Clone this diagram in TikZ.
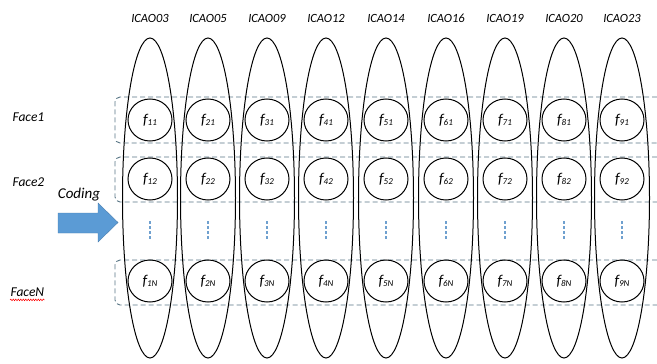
\documentclass[tikz,border=0pt]{standalone}
\usepackage{fontspec}
\setmainfont{Carlito}
\usetikzlibrary{shapes.geometric,decorations.pathmorphing}
\definecolor{dashcol}{HTML}{587585}
\definecolor{dotcol}{HTML}{6FA0CF}
\definecolor{arrowcol}{HTML}{5B9BD5}
\definecolor{arrowedge}{HTML}{4A7FB0}
\tikzset{
  colell/.style={ellipse, draw=black, line width=1pt, minimum width=55pt, minimum height=320pt, inner sep=0pt},
  fcirc/.style={ellipse, draw=black, line width=1pt, minimum width=44pt, minimum height=42pt, inner sep=0pt},
  rowbox/.style={draw=dashcol, line width=0.9pt, dash pattern=on 5pt off 3pt, rounded corners=5pt},
  hdr/.style={font=\fontsize{12.5}{14}\selectfont\itshape},
  facelbl/.style={font=\fontsize{13.5}{15}\selectfont\itshape, anchor=west},
  dotsline/.style={draw=dotcol, line width=2.6pt, dash pattern=on 2.6pt off 2.4pt}
}
\newcommand{\fl}[1]{{\fontsize{15}{16}\selectfont\itshape f}\raisebox{-0.35ex}{\fontsize{9}{10}\selectfont\itshape #1}}
\begin{document}
\begin{tikzpicture}[x=1pt,y=-1pt]
\useasboundingbox (0,0) rectangle (657,364);
% dashed row boxes
\draw[rowbox] (657,97) -- (115,97) -- (115,143) -- (657,143);
\draw[rowbox] (657,157) -- (115,157) -- (115,202) -- (657,202);
\draw[rowbox] (657,260) -- (115,260) -- (115,305) -- (657,305);
% columns
\foreach \i/\x/\name in {1/150/03,2/208/05,3/267/09,4/326/12,5/386/14,6/446/16,7/505/19,8/564/20,9/622/23}{
  \node[colell] (col\i) at (\x,198) {};
  \node[hdr] (h\i) at (\x,18) {ICAO\name};
  \node[fcirc] (c\i1) at (\x,120) {\fl{\i1}};
  \node[fcirc] (c\i2) at (\x,179) {\fl{\i2}};
  \node[fcirc] (c\i N) at (\x,281) {\fl{\i N}};
  \coordinate (dt\i) at (\x,221);
  \coordinate (db\i) at (\x,240);
  \draw[dotsline] (dt\i) -- (db\i);
}
% row labels
\node[facelbl] (face1) at (9,117) {Face1};
\node[facelbl] (face2) at (9,182) {Face2};
\node[facelbl] (faceN) at (7,292) {FaceN};
\draw[red, line width=0.5pt, decorate, decoration={snake, amplitude=0.8pt, segment length=2.5pt}] ([xshift=3pt,yshift=0pt]faceN.south west) -- ([xshift=-3pt,yshift=0pt]faceN.south east);
\node[font=\fontsize{15}{17}\selectfont\itshape] (coding) at (79,195) {Coding};
% arrow
\draw[fill=arrowcol, draw=arrowedge, line width=0.4pt] (58,213) -- (98,213) -- (98,203) -- (118,222.5) -- (98,242) -- (98,233) -- (58,233) -- cycle;
\end{tikzpicture}
\end{document}
